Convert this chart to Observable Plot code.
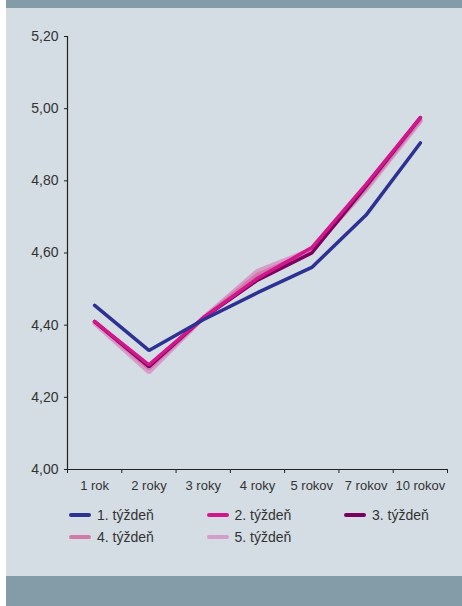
<!DOCTYPE html>
<html><head><meta charset="utf-8">
<script src="https://cdn.jsdelivr.net/npm/d3@7"></script>
<script src="https://cdn.jsdelivr.net/npm/@observablehq/plot@0.6"></script>
<style>
body{margin:0;background:#fff;}
#wrap{position:absolute;left:6px;top:0;width:456px;height:606px;background:#D3DDE3;font-family:"Liberation Sans",Arial,sans-serif;color:#333;overflow:hidden}
#top{height:8px;background:#849CA8}
#chart{position:absolute;left:0;top:8px}
#bottom{position:absolute;left:0;bottom:0;width:456px;height:30px;background:#849CA8}
#legend{position:absolute;left:63px;top:504px;display:grid;grid-template-columns:repeat(3,137.5px);grid-auto-rows:22px;font-size:14px}
.item{display:flex;align-items:center;white-space:nowrap}
.sw{width:22px;height:4px;border-radius:2px;margin-right:6px}
</style>
</head><body>
<div id="wrap"><div id="top"></div><div id="chart"></div><div id="legend"></div><div id="bottom"></div></div>
<script>
const categories = ["1 rok","2 roky","3 roky","4 roky","5 rokov","7 rokov","10 rokov"];
const seriesNames = ["1. týždeň","2. týždeň","3. týždeň","4. týždeň","5. týždeň"];
const colors = ["#2E3192","#D2168C","#7A0060","#D27AA8","#D69DCB"];
const week1 = [4.455, 4.33, 4.415, 4.49, 4.56, 4.705, 4.905];
const week2 = [4.41, 4.29, 4.42, 4.53, 4.615, 4.79, 4.975];
const week3 = [4.41, 4.285, 4.42, 4.525, 4.60, 4.785, 4.975];
const week4 = [4.41, 4.28, 4.42, 4.54, 4.605, 4.78, 4.97];
const week5 = [4.405, 4.27, 4.42, 4.55, 4.61, 4.775, 4.965];
const yTicks = [4.0, 4.2, 4.4, 4.6, 4.8, 5.0, 5.2];

const allSeries = [week1, week2, week3, week4, week5];
const widths = [3.5, 3.5, 3.5, 4, 4.5];
const drawOrder = [4, 3, 2, 1, 0];
const n = categories.length;
const fmt = v => v.toFixed(2).replace(".", ",");

const marks = [];
for (const s of drawOrder) {
  const data = allSeries[s].map((v, i) => ({x: i + 0.5, y: v}));
  marks.push(Plot.line(data, {x: "x", y: "y", stroke: colors[s], strokeWidth: widths[s], strokeLinejoin: "miter", strokeLinecap: "round"}));
}
marks.push(
  Plot.ruleX([0], {stroke: "#222", strokeWidth: 1.2}),
  Plot.ruleY([4.0], {stroke: "#222", strokeWidth: 1.2}),
  Plot.axisY({ticks: yTicks, tickFormat: fmt, tickSize: 3, tickPadding: 6, fontSize: 14, color: "#333", stroke: "#222", label: null}),
  Plot.axisX({ticks: d3.range(n).map(i => i + 0.5), tickFormat: i => categories[Math.floor(i)], tickSize: 0, tickPadding: 11, fontSize: 13, color: "#333", label: null}),
  Plot.axisX({ticks: d3.range(n + 1), tickFormat: () => "", tickSize: 4, tickPadding: 0, stroke: "#222", label: null})
);

const chart = Plot.plot({
  width: 456, height: 490,
  marginLeft: 61, marginRight: 15, marginTop: 28, marginBottom: 29,
  x: {type: "linear", domain: [0, n], label: null},
  y: {domain: [4.0, 5.2], label: null},
  style: {background: "transparent", fontFamily: "Liberation Sans, Arial, sans-serif", color: "#333"},
  marks
});
document.getElementById("chart").appendChild(chart);

const legend = document.getElementById("legend");
seriesNames.forEach((name, i) => {
  const it = document.createElement("div");
  it.className = "item";
  it.innerHTML = `<span class="sw" style="background:${colors[i]}"></span><span>${name}</span>`;
  legend.appendChild(it);
});
</script>
</body></html>
